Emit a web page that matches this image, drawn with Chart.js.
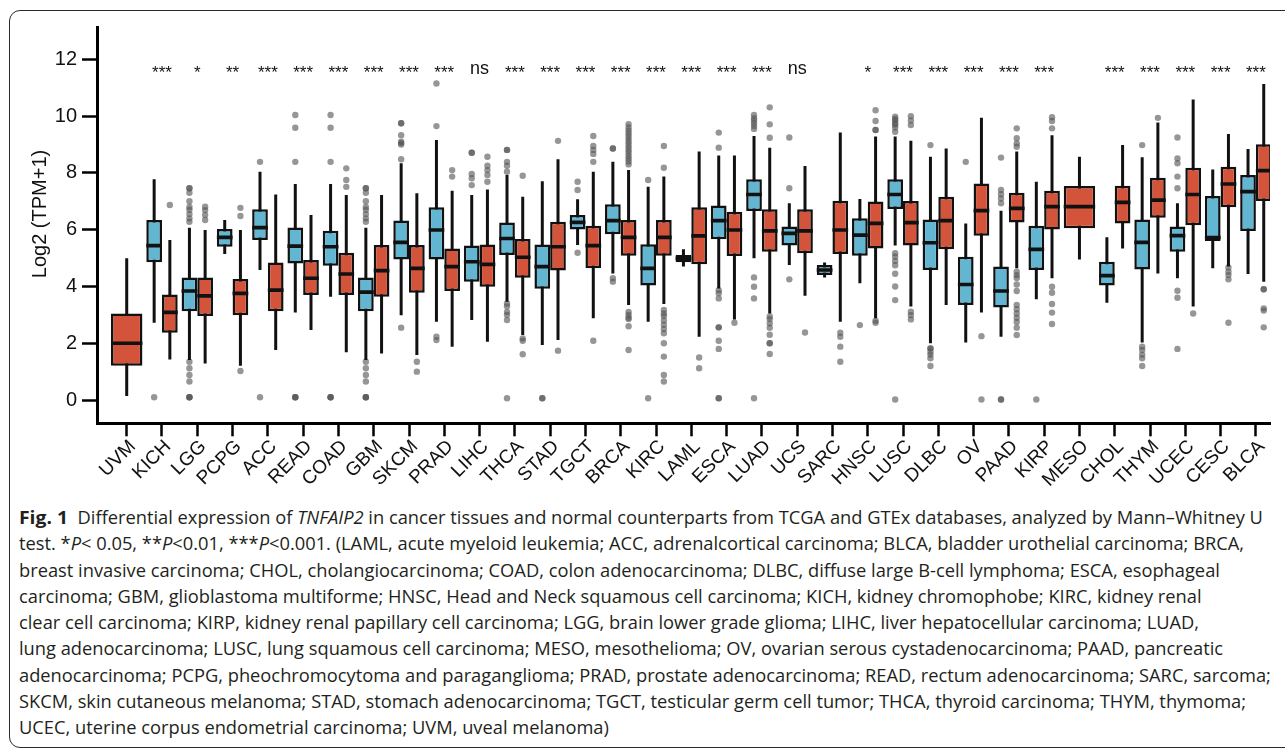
<!DOCTYPE html>
<html><head><meta charset="utf-8">
<script src="https://cdn.jsdelivr.net/npm/chart.js@4.4.1/dist/chart.umd.min.js"></script>
<style>
html,body{margin:0;padding:0;background:#fff;width:1285px;height:749px;overflow:hidden;}
#card{position:absolute;left:9px;top:10px;width:1300px;height:738px;border:1.5px solid #2a2a2a;border-radius:11px;box-sizing:border-box;}
#chart{position:absolute;left:0;top:0;}
#caption{position:absolute;left:19px;top:504px;font-family:'Open Sans',sans-serif;font-size:17.5px;line-height:26.3px;color:#231f20;}
#caption div{white-space:nowrap;width:max-content;transform-origin:0 50%;}
#caption b{font-size:18.5px;}
</style></head><body>
<div id="card"></div>
<canvas id="chart" width="1285" height="500"></canvas>
<div id="caption">
<div><b>Fig. 1</b>&nbsp;&nbsp;Differential expression of <i>TNFAIP2</i> in cancer tissues and normal counterparts from TCGA and GTEx databases, analyzed by Mann–Whitney U</div>
<div>test. *<i>P</i>&lt; 0.05, **<i>P</i>&lt;0.01, ***<i>P</i>&lt;0.001. (LAML, acute myeloid leukemia; ACC, adrenalcortical carcinoma; BLCA, bladder urothelial carcinoma; BRCA,</div>
<div>breast invasive carcinoma; CHOL, cholangiocarcinoma; COAD, colon adenocarcinoma; DLBC, diffuse large B-cell lymphoma; ESCA, esophageal</div>
<div>carcinoma; GBM, glioblastoma multiforme; HNSC, Head and Neck squamous cell carcinoma; KICH, kidney chromophobe; KIRC, kidney renal</div>
<div>clear cell carcinoma; KIRP, kidney renal papillary cell carcinoma; LGG, brain lower grade glioma; LIHC, liver hepatocellular carcinoma; LUAD,</div>
<div>lung adenocarcinoma; LUSC, lung squamous cell carcinoma; MESO, mesothelioma; OV, ovarian serous cystadenocarcinoma; PAAD, pancreatic</div>
<div>adenocarcinoma; PCPG, pheochromocytoma and paraganglioma; PRAD, prostate adenocarcinoma; READ, rectum adenocarcinoma; SARC, sarcoma;</div>
<div>SKCM, skin cutaneous melanoma; STAD, stomach adenocarcinoma; TGCT, testicular germ cell tumor; THCA, thyroid carcinoma; THYM, thymoma;</div>
<div>UCEC, uterine corpus endometrial carcinoma; UVM, uveal melanoma)</div>
</div>
<script>
// ---------------- data ----------------
const categories = ['UVM','KICH','LGG','PCPG','ACC','READ','COAD','GBM','SKCM','PRAD','LIHC','THCA','STAD','TGCT','BRCA','KIRC','LAML','ESCA','LUAD','UCS','SARC','HNSC','LUSC','DLBC','OV','PAAD','KIRP','MESO','CHOL','THYM','UCEC','CESC','BLCA'];

const normalQ1   = [null,4.85,3.13,5.40,5.64,4.81,4.73,3.13,4.95,4.95,4.17,5.11,3.92,6.01,5.84,4.03,4.85,5.66,6.66,5.44,4.40,5.08,6.73,4.58,3.35,3.26,4.58,null,4.03,4.60,5.22,5.60,5.95];
const normalMed  = [null,5.44,3.84,5.73,6.07,5.42,5.40,3.80,5.55,5.99,4.87,5.69,4.70,6.26,6.32,4.64,4.99,6.32,7.24,5.87,4.58,5.81,7.24,5.54,4.07,3.84,5.31,null,4.38,5.55,5.79,5.72,7.34];
const normalQ3   = [null,6.34,4.32,6.02,6.72,6.08,5.96,4.32,6.32,6.79,5.44,6.25,5.48,6.52,6.90,5.49,5.11,6.85,7.78,6.11,4.76,6.40,7.78,6.36,5.05,4.70,6.14,null,4.87,6.36,6.11,7.19,7.93];
const normalLow  = [null,2.72,1.41,5.14,4.58,3.08,3.64,1.41,2.99,2.76,2.82,3.46,1.94,5.46,4.46,2.76,4.70,3.93,4.99,4.76,4.32,4.11,5.44,2.00,2.03,2.23,3.55,null,3.43,2.03,4.29,4.64,4.44];
const normalHigh = [null,7.78,6.07,6.34,8.04,7.61,7.61,6.07,8.34,9.16,7.22,7.93,7.71,7.07,8.39,7.51,5.31,8.61,9.30,6.93,4.84,7.08,9.28,8.57,6.22,6.67,7.69,null,5.73,8.55,6.93,8.12,8.84];

const tumorQ1   = [1.21,2.37,2.96,2.99,3.13,3.70,3.70,3.64,3.78,3.84,3.99,4.31,4.56,4.64,5.08,5.08,4.78,5.07,5.22,5.17,5.14,5.34,5.44,5.31,5.79,6.25,6.01,6.05,6.22,6.42,6.16,6.79,7.01];
const tumorMed  = [2.00,3.09,3.67,3.76,3.87,4.29,4.44,4.56,4.64,4.70,4.78,5.03,5.40,5.44,5.73,5.73,5.78,5.99,5.96,5.96,5.99,6.22,6.25,6.32,6.67,6.75,6.81,6.81,6.96,7.04,7.24,7.61,8.08];
const tumorQ3   = [3.05,3.72,4.32,4.26,4.84,4.93,5.19,5.46,5.46,5.34,5.48,5.67,6.28,6.14,6.34,6.34,6.79,6.63,6.72,6.72,7.02,6.99,7.01,7.16,7.63,7.30,7.37,7.54,7.55,7.83,8.18,8.22,9.01];
const tumorLow  = [0.14,1.43,1.29,1.21,1.76,2.47,1.68,1.64,1.59,1.88,2.05,2.29,2.11,2.88,3.35,3.38,2.23,2.84,3.05,3.67,2.76,2.88,3.29,3.35,3.08,4.64,4.29,4.95,5.34,4.46,3.29,4.70,4.17];
const tumorHigh = [4.99,5.64,5.99,5.99,7.24,6.52,7.22,7.22,7.28,7.37,7.42,7.16,8.48,8.04,8.10,7.87,8.75,8.61,8.89,8.24,9.42,9.28,9.13,8.86,9.94,8.75,9.33,8.57,8.98,9.78,10.59,9.37,11.13];

const normalOutliers = [
  [], [0.1],
  [7.46,7.46,7.3,7.0,6.8,6.7,6.55,6.4,6.28,1.35,1.12,0.88,0.65,0.1,0.1,0.1],
  [], [8.39,0.1], [10.04,9.59,8.39,0.1,0.1,0.1], [10.04,9.59,8.39,0.1,0.1,0.1],
  [7.46,7.46,7.3,7.0,6.8,6.7,6.55,6.4,6.28,1.35,1.12,0.88,0.65,0.1,0.1,0.1],
  [9.75,9.75,9.33,9.1,9.05,9.0,8.48,2.55], [11.15,9.65,2.23,2.11], [8.71,8.71,7.96,7.81,7.57],
  [8.81,8.81,8.39,8.25,8.04,3.4,3.3,3.1,3.0,2.82,0.06], [0.06,0.06], [7.69,7.4,5.19], [8.86,8.86,4.29,4.17],
  [7.75,0.06], [], [9.42,8.89,3.87,3.76,3.58,2.56,2.56,2.09,1.8,0.06,0.06],
  [10.04,9.93,9.85,9.75,9.65,9.55,4.32,3.99,3.58,0.06], [9.25,7.46,4.25], [], [2.64],
  [9.98,9.9,9.85,9.75,9.7,9.6,9.45,5.17,5.05,4.9,4.75,4.45,4.0,3.52,0.02],
  [8.98,1.82,1.82,1.7,1.6,1.47,1.2], [8.39], [8.54,7.4,7.25,7.1,6.93,0.02,0.02], [0.02], [], [],
  [8.98,1.88,1.76,1.6,1.47,1.2], [9.25,8.51,8.34,7.87,7.46,3.85,3.6,1.8], [], []
];
const tumorOutliers = [
  [], [6.87], [6.81,6.69,6.52,6.34], [6.77,6.48,1.02], [], [], [8.16,7.75,7.51], [], [1.35,1.0], [8.1,7.87],
  [8.57,8.25,8.1,7.93,7.69], [7.9,2.17,2.09,1.61], [9.13,1.74], [9.3,8.95,8.81,8.67,8.39,2.09],
  [9.72,9.6,9.5,9.4,9.3,9.2,9.1,9.0,8.9,8.8,8.7,8.6,8.5,8.4,8.3,3.1,3.0,2.9,2.85,2.6,1.76],
  [8.95,8.18,3.17,3.05,2.96,2.8,2.65,2.5,2.35,2.0,1.53,0.88,0.65], [1.5,1.12], [2.72],
  [10.31,9.71,9.24,2.94,2.85,2.7,2.55,2.3,2.0,2.0,1.62], [2.38], [2.37,2.23,1.88,1.35],
  [10.21,9.83,9.51,9.51,2.79,2.72], [10.0,9.85,9.69,3.11,2.99,2.84], [], [2.25,0.02],
  [9.57,9.22,9.04,8.92,4.52,4.4,4.3,4.07,3.84,3.35,3.2,3.05,2.9,2.75,2.55,2.29],
  [9.96,9.83,9.57,3.99,3.78,3.38,3.08,2.68], [], [], [9.94], [3.05], [4.67,4.52,4.4,4.25,2.72], [3.9,3.9,3.23,3.15,2.56]
];

const significance = ['','***','*','**','***','***','***','***','***','***','ns','***','***','***','***','***','***','***','***','ns','','*','***','***','***','***','***','','***','***','***','***','***'];
const yTicks = [0,2,4,6,8,10,12];
const yTitle = 'Log2 (TPM+1)';

// ---------------- style / layout ----------------
const BLUE = '#62B6D2', RED = '#D4533B', INK = '#111111';
const FONT = '"Liberation Sans", Arial, sans-serif';
const CAT_PCT = 0.89;          // group width as share of category band
const DODGE = CAT_PCT / 4;     // centre offset of a dodged box (category units)
const MED_HALF = 0.065;        // half thickness of median bar (value units)
const X_MIN = 0.158, X_MAX = 33.40, Y_MIN = -0.82, Y_MAX = 13.14;
const SIG_Y_STAR = 11.35, SIG_Y_NS = 11.49;
const CANVAS_H = 500, AXIS_Y = 423.3, X_LABEL_SIZE = 19, X_LABEL_GAP = 14.5;

const pos = i => i + 1;
const floating = (lo, hi) => categories.map((c, i) => ({x: pos(i), y: lo[i] == null ? null : [lo[i], hi[i]]}));
const medianBars = (m) => categories.map((c, i) => ({x: pos(i), y: m[i] == null ? null : [m[i] - MED_HALF, m[i] + MED_HALF]}));
function outlierPoints(list, side) {
  const pts = [];
  list.forEach((vals, i) => {
    const single = normalQ1[i] == null || tumorQ1[i] == null;
    const dx = single ? 0 : side * DODGE;
    vals.forEach(v => pts.push({x: pos(i) + dx, y: v}));
  });
  return pts;
}

const barCommon = {type: 'bar', skipNull: true, grouped: true, categoryPercentage: CAT_PCT, barPercentage: 1, borderSkipped: false};
const datasets = [
  Object.assign({}, barCommon, {label: 'medN', stack: 'N', order: 0, data: medianBars(normalMed), backgroundColor: INK, borderWidth: 0}),
  Object.assign({}, barCommon, {label: 'medT', stack: 'T', order: 1, data: medianBars(tumorMed), backgroundColor: INK, borderWidth: 0}),
  Object.assign({}, barCommon, {label: 'boxN', stack: 'N', order: 2, data: floating(normalQ1, normalQ3), backgroundColor: BLUE, borderColor: INK, borderWidth: 2.5}),
  Object.assign({}, barCommon, {label: 'boxT', stack: 'T', order: 3, data: floating(tumorQ1, tumorQ3), backgroundColor: RED, borderColor: INK, borderWidth: 2.5}),
  Object.assign({}, barCommon, {label: 'whiskN', stack: 'N', order: 4, data: floating(normalLow, normalHigh), backgroundColor: INK, borderWidth: 0, maxBarThickness: 3}),
  Object.assign({}, barCommon, {label: 'whiskT', stack: 'T', order: 5, data: floating(tumorLow, tumorHigh), backgroundColor: INK, borderWidth: 0, maxBarThickness: 3}),
  {type: 'scatter', label: 'outN', order: 6, data: outlierPoints(normalOutliers, -1), pointRadius: 3.2, pointBackgroundColor: 'rgba(85,85,85,0.62)', pointBorderWidth: 0},
  {type: 'scatter', label: 'outT', order: 7, data: outlierPoints(tumorOutliers, 1), pointRadius: 3.2, pointBackgroundColor: 'rgba(85,85,85,0.62)', pointBorderWidth: 0}
];

const sigPlugin = {
  id: 'sig',
  afterDatasetsDraw(chart) {
    const {ctx, scales: {x, y}} = chart;
    ctx.save();
    ctx.fillStyle = INK;
    ctx.textAlign = 'center';
    ctx.textBaseline = 'alphabetic';
    significance.forEach((s, i) => {
      if (!s) return;
      const ns = s === 'ns';
      ctx.font = (ns ? '18px ' : '17px ') + FONT;
      ctx.fillText(s, x.getPixelForValue(pos(i)), y.getPixelForValue(ns ? SIG_Y_NS : SIG_Y_STAR));
    });
    ctx.restore();
  }
};
// rotated category labels: top-right corner of each label sits under its tick (hjust = vjust = 1)
const xLabelPlugin = {
  id: 'xlabels',
  afterDraw(chart) {
    const {ctx, scales: {x}} = chart;
    ctx.save();
    ctx.fillStyle = INK;
    ctx.font = X_LABEL_SIZE + 'px ' + FONT;
    ctx.textAlign = 'right';
    ctx.textBaseline = 'alphabetic';
    x.ticks.forEach((t, i) => {
      ctx.save();
      ctx.translate(x.getPixelForTick(i), x.top + X_LABEL_GAP);
      ctx.rotate(-Math.PI / 4);
      ctx.fillText(categories[Math.round(t.value) - 1], 0, 0.716 * X_LABEL_SIZE);
      ctx.restore();
    });
    ctx.restore();
  }
};
const yTitlePlugin = {
  id: 'ytitle',
  afterDraw(chart) {
    const ctx = chart.ctx;
    ctx.save();
    ctx.translate(40, 214);
    ctx.rotate(-Math.PI / 2);
    ctx.fillStyle = INK;
    ctx.font = '20px ' + FONT;
    ctx.textAlign = 'center';
    ctx.textBaseline = 'middle';
    ctx.fillText(yTitle, 0, 0);
    ctx.restore();
  }
};

new Chart(document.getElementById('chart'), {
  type: 'bar',
  data: {datasets},
  options: {
    responsive: false, animation: false, devicePixelRatio: 1,
    layout: {padding: {left: 0, top: 27, right: 15, bottom: 0}},
    plugins: {legend: {display: false}, tooltip: {enabled: false}},
    scales: {
      x: {
        type: 'linear', min: X_MIN, max: X_MAX, offset: false,
        afterBuildTicks: ax => { ax.ticks = categories.map((c, i) => ({value: pos(i)})); },
        afterFit: s => { s.height = CANVAS_H - AXIS_Y; },
        ticks: {display: false, autoSkip: false},
        grid: {offset: false, drawOnChartArea: false, drawTicks: true, tickLength: 13, tickWidth: 2.5, tickColor: '#000'},
        border: {display: true, color: '#000', width: 3}
      },
      y: {
        type: 'linear', min: Y_MIN, max: Y_MAX, stacked: false,
        afterBuildTicks: ax => { ax.ticks = yTicks.map(v => ({value: v})); },
        afterFit: s => { s.width = 97; },
        ticks: {color: INK, padding: 5, font: {family: FONT, size: 20}},
        grid: {drawOnChartArea: false, drawTicks: true, tickLength: 15, tickWidth: 2.5, tickColor: '#000'},
        border: {display: true, color: '#000', width: 3}
      }
    }
  },
  plugins: [sigPlugin, xLabelPlugin, yTitlePlugin]
});

// fit caption to the reference text block width (one common horizontal scale)
const lineEnds = [1245, 1265, 1258, 1195, 1229, 1222, 1271, 1246];
const lines = Array.from(document.querySelectorAll('#caption div'));
const ratios = lineEnds.map((e, i) => (e - 19) / lines[i].getBoundingClientRect().width).sort((a, b) => a - b);
const k = (ratios[3] + ratios[4]) / 2;
lines.forEach(el => { el.style.transform = 'scaleX(' + k.toFixed(4) + ')'; });
</script>
</body></html>
